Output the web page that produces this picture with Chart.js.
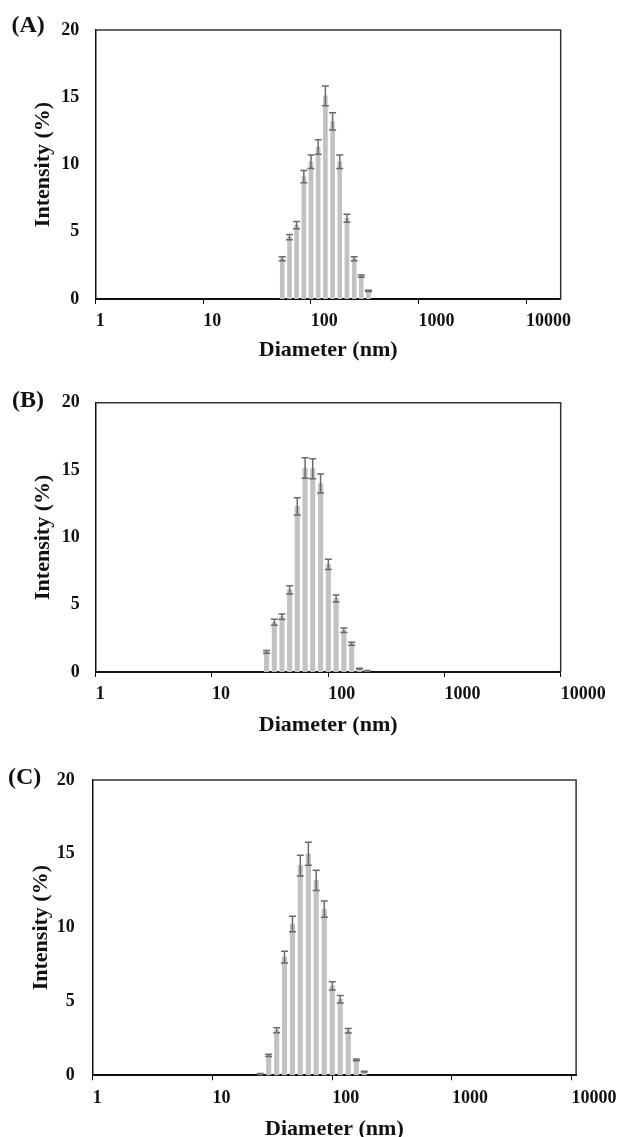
<!DOCTYPE html>
<html>
<head>
<meta charset="utf-8">
<script src="https://cdn.jsdelivr.net/npm/chart.js@4.4.0/dist/chart.umd.min.js"></script>
<style>
  body { margin: 0; background: #fff; }
  .panel { position: absolute; left: 0; width: 624px; }
  canvas { display: block; }
</style>
</head>
<body>
<div class="panel" style="top:0px;height:375px"><canvas id="chartA" width="624" height="375"></canvas></div>
<div class="panel" style="top:375px;height:375px"><canvas id="chartB" width="624" height="375"></canvas></div>
<div class="panel" style="top:750px;height:387px"><canvas id="chartC" width="624" height="387"></canvas></div>
<script>
// size bins (nm), shared by the three samples
var diameters = [25.1, 29.5, 34.4, 40.0, 46.6, 54.2, 63.3, 73.6, 86.0, 100.3, 116.9, 136.4, 159.2, 185.4, 216.5, 253, 294, 343];

var intensityA = [null, null, null, null, null, 3.0, 4.6, 5.5, 9.1, 10.2, 11.3, 15.1, 13.2, 10.2, 6.0, 3.0, 1.7, 0.6];
var errorA     = [null, null, null, null, null, 0.15, 0.2, 0.27, 0.46, 0.5, 0.54, 0.73, 0.64, 0.5, 0.3, 0.15, 0.09, 0.05];

var intensityB = [null, 1.5, 3.7, 4.1, 6.1, 12.3, 15.15, 15.1, 14.0, 8.0, 5.45, 3.1, 2.1, 0.25, 0.1, null, null, null];
var errorB     = [null, 0.1, 0.22, 0.2, 0.3, 0.64, 0.77, 0.74, 0.7, 0.38, 0.26, 0.17, 0.11, 0.03, 0.02, null, null, null];

var intensityC = [0.1, 1.35, 3.05, 8.0, 10.25, 14.2, 15.0, 13.2, 11.25, 6.05, 5.15, 3.02, 1.04, 0.25, null, null, null, null];
var errorC     = [0.02, 0.07, 0.17, 0.4, 0.52, 0.71, 0.78, 0.68, 0.55, 0.28, 0.25, 0.15, 0.06, 0.02, null, null, null, null];

var xTicks = [1, 10, 100, 1000, 10000];
var xTitle = 'Diameter (nm)';
var yTitle = 'Intensity (%)';

var serif = '"Liberation Serif", "Times New Roman", serif';

// error bars, frame and panel letter
var panelDecor = {
  id: 'panelDecor',
  afterDatasetsDraw: function (chart, args, opts) {
    var ctx = chart.ctx;
    var y = chart.scales.y;
    var meta = chart.getDatasetMeta(0);
    var pts = chart.data.datasets[0].data;
    ctx.save();
    ctx.strokeStyle = '#6a6a6a';
    ctx.lineWidth = 1.5;
    meta.data.forEach(function (bar, i) {
      var e = pts[i].err;
      if (e === null || e === undefined) return;
      var top = y.getPixelForValue(pts[i].y + e);
      var bot = y.getPixelForValue(Math.max(pts[i].y - e, 0));
      var w = opts.cap;
      ctx.beginPath();
      ctx.moveTo(bar.x, top); ctx.lineTo(bar.x, bot);
      ctx.moveTo(bar.x - w, top); ctx.lineTo(bar.x + w, top);
      ctx.moveTo(bar.x - w, bot); ctx.lineTo(bar.x + w, bot);
      ctx.stroke();
    });
    ctx.restore();
  },
  afterDraw: function (chart, args, opts) {
    var ctx = chart.ctx;
    var a = chart.chartArea;
    ctx.save();
    ctx.strokeStyle = '#333';
    ctx.lineWidth = 1.5;
    ctx.beginPath();
    ctx.moveTo(a.left, a.top); ctx.lineTo(a.right, a.top); ctx.lineTo(a.right, a.bottom);
    ctx.stroke();
    ctx.fillStyle = '#111';
    ctx.font = 'bold 24px ' + serif;
    ctx.textBaseline = 'middle';
    ctx.textAlign = 'left';
    ctx.fillText(opts.letter, opts.lx, opts.ly);
    ctx.restore();
  }
};

function makePanel(id, letter, values, errors, p) {
  var points = [];
  for (var i = 0; i < diameters.length; i++) {
    if (values[i] === null) continue;
    points.push({ x: diameters[i], y: values[i], err: errors[i] });
  }
  var ctx = document.getElementById(id);
  var config = {
    type: 'bar',
    data: {
      datasets: [{
        data: points,
        backgroundColor: '#c2c2c2',
        borderWidth: 0,
        barThickness: p.bar
      }]
    },
    plugins: [panelDecor],
    options: {
      responsive: false,
      animation: false,
      layout: { padding: { left: 0, top: p.top, right: 624 - p.right, bottom: 0 } },
      plugins: {
        legend: { display: false },
        tooltip: { enabled: false },
        panelDecor: { letter: letter, lx: p.lx, ly: p.ly, cap: 3.5 }
      },
      scales: {
        x: {
          type: 'logarithmic',
          min: 1,
          max: p.xmax,
          offset: false,
          afterBuildTicks: function (s) {
            s.ticks = xTicks.map(function (v) { return { value: v, major: true }; });
          },
          afterFit: function (s) { s.height = p.h - p.bottom; },
          grid: { display: true, offset: false, drawOnChartArea: false, drawTicks: true, tickLength: 5, color: '#111', lineWidth: 1 },
          border: { display: true, color: '#111', width: 2 },
          ticks: {
            align: 'start',
            padding: 7,
            maxRotation: 0,
            autoSkip: false,
            color: '#111',
            font: { family: serif, size: 18, weight: 'bold' },
            callback: function (v) { return String(v); }
          },
          title: {
            display: true,
            text: xTitle,
            color: '#111',
            font: { family: serif, size: 22, weight: 'bold' },
            padding: { top: 0, bottom: p.tb }
          }
        },
        y: {
          min: 0,
          max: 20,
          afterFit: function (s) { s.width = p.left; },
          grid: { display: false, drawTicks: false },
          border: { display: true, color: '#111', width: 1.5 },
          ticks: {
            stepSize: 5,
            padding: p.yp,
            color: '#111',
            font: { family: serif, size: 18, weight: 'bold' }
          },
          title: {
            display: true,
            text: yTitle,
            color: '#111',
            font: { family: serif, size: 22, weight: 'bold' },
            padding: { top: p.yt, bottom: 0 }
          }
        }
      }
    }
  };
  return new Chart(ctx, config);
}

makePanel('chartA', '(A)', intensityA, errorA,
  { h: 375, top: 30, bottom: 299, left: 95.7, right: 560.7, xmax: 21000, bar: 4, tb: 11.8, yp: 16.4, yt: 30.6, lx: 11.5, ly: 26 });
makePanel('chartB', '(B)', intensityB, errorB,
  { h: 375, top: 27.7, bottom: 297, left: 95.7, right: 560.7, xmax: 10000, bar: 4.5, tb: 11.8, yp: 16, yt: 30.6, lx: 12, ly: 25.7 });
makePanel('chartC', '(C)', intensityC, errorC,
  { h: 387, top: 30, bottom: 325.3, left: 92.7, right: 583.1, xmax: 10900, bar: 4.5, tb: -6, yp: 18, yt: 28.6, lx: 8, ly: 27.3 });
</script>
</body>
</html>
